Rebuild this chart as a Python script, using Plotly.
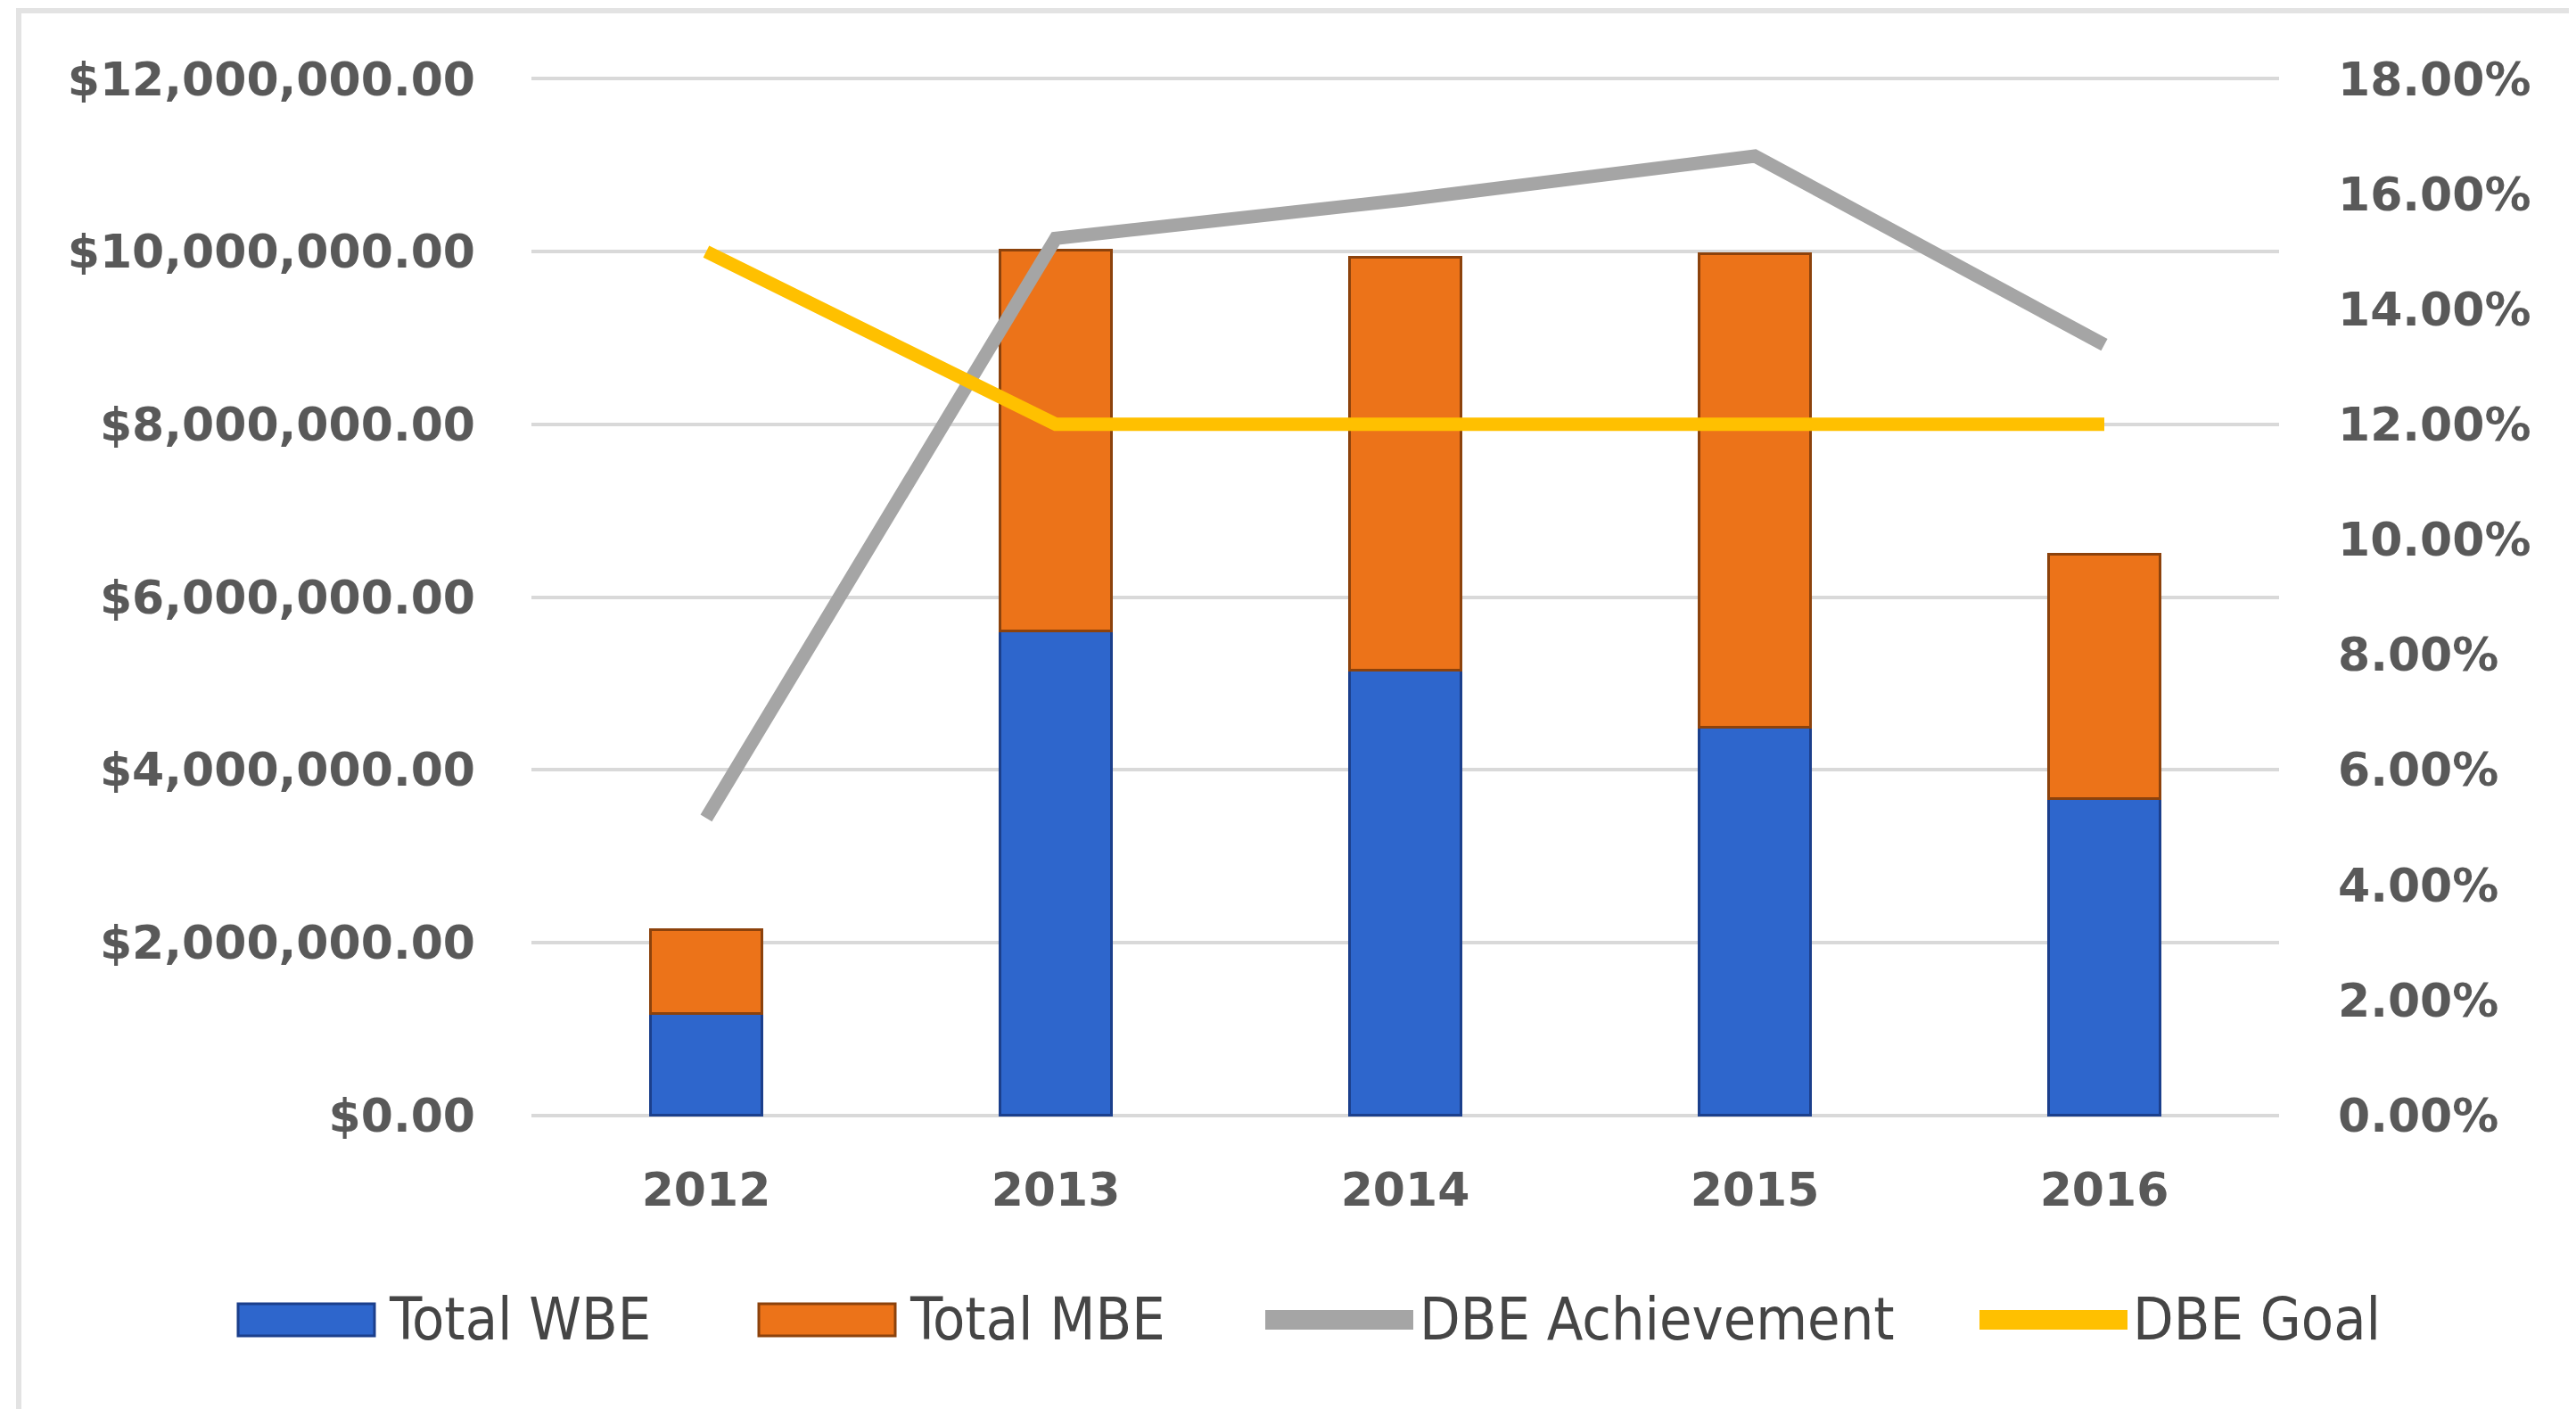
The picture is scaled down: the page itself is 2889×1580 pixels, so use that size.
import plotly.graph_objects as go

years = ["2012", "2013", "2014", "2015", "2016"]
total_wbe = [1180000, 5610000, 5150000, 4490000, 3670000]
total_mbe = [970000, 4410000, 4780000, 5490000, 2830000]
dbe_achievement = [0.0516, 0.1523, 0.1590, 0.1666, 0.1338]
dbe_goal = [0.15, 0.12, 0.12, 0.12, 0.12]

W, H = 2889, 1580
OFF = 8  # page body margin
L, R, T, B = 588, 341, 78, 335
PW, PH = W - L - R, H - T - B

def px(x):
    # screen x -> paper x
    return (x - OFF - L) / PW

def py(y):
    # screen y -> paper y
    return (H - B - (y - OFF)) / PH

BLUE = "#2e66cc"
BLUE_EDGE = "#1b3f8c"
ORANGE = "#ec7319"
ORANGE_EDGE = "#8c420c"
GRAY = "#a5a5a5"
GOLD = "#ffc000"
TXT = "#595959"
GRID = "#d9d9d9"
TICKFONT = dict(family="DejaVu Sans", size=52, color=TXT, weight="bold")

fig = go.Figure()
fig.add_trace(go.Bar(x=years, y=total_wbe, name="Total WBE", width=0.32,
                     marker=dict(color=BLUE, line=dict(color=BLUE_EDGE, width=3)),
                     showlegend=False))
fig.add_trace(go.Bar(x=years, y=total_mbe, name="Total MBE", width=0.32,
                     marker=dict(color=ORANGE, line=dict(color=ORANGE_EDGE, width=3)),
                     showlegend=False))
fig.add_trace(go.Scatter(x=years, y=dbe_achievement, name="DBE Achievement", yaxis="y2",
                         mode="lines", line=dict(color=GRAY, width=15), showlegend=False))
fig.add_trace(go.Scatter(x=years, y=dbe_goal, name="DBE Goal", yaxis="y2",
                         mode="lines", line=dict(color=GOLD, width=15), showlegend=False))

shapes = []
annotations = []
# outer border
shapes.append(dict(type="rect", xref="paper", yref="paper",
                   x0=px(21), x1=px(2886), y0=py(1600), y1=py(12),
                   line=dict(color="#e3e3e3", width=6), fillcolor="rgba(0,0,0,0)", layer="below"))

legend_items = [
    ("Total WBE", "bar", BLUE, BLUE_EDGE, 267, 420, 434),
    ("Total MBE", "bar", ORANGE, ORANGE_EDGE, 851, 1004, 1018),
    ("DBE Achievement", "line", GRAY, None, 1419, 1585, 1590),
    ("DBE Goal", "line", GOLD, None, 2220, 2386, 2390),
]
ly = 1480
for name, kind, col, edge, x0, x1, tx in legend_items:
    if kind == "bar":
        shapes.append(dict(type="rect", xref="paper", yref="paper",
                           x0=px(x0), x1=px(x1), y0=py(ly + 18), y1=py(ly - 18),
                           fillcolor=col, line=dict(color=edge, width=3)))
    else:
        shapes.append(dict(type="line", xref="paper", yref="paper",
                           x0=px(x0), x1=px(x1), y0=py(ly), y1=py(ly),
                           line=dict(color=col, width=22)))
    annotations.append(dict(text=name, xref="paper", yref="paper", x=px(tx), y=py(ly),
                            xanchor="left", yanchor="middle", showarrow=False,
                            font=dict(family="DejaVu Sans Condensed", size=66, color="#454545")))

fig.update_layout(
    width=W, height=H,
    margin=dict(l=L, r=R, t=T, b=B),
    paper_bgcolor="white", plot_bgcolor="white",
    barmode="stack",
    xaxis=dict(type="category", showgrid=False, showline=False, ticks="",
               tickfont=TICKFONT, ticklabelstandoff=46),
    yaxis=dict(range=[-25000, 12025000], tickvals=[0, 2e6, 4e6, 6e6, 8e6, 10e6, 12e6],
               tickformat="$,.2f",
               showgrid=True, gridcolor=GRID, gridwidth=4,
               zeroline=True, zerolinecolor=GRID, zerolinewidth=4,
               showline=False, tickfont=TICKFONT, ticklabelstandoff=62),
    yaxis2=dict(range=[-0.000375, 0.180375], tickvals=[0, 0.02, 0.04, 0.06, 0.08, 0.10,
                                                       0.12, 0.14, 0.16, 0.18],
                tickformat=".2%", overlaying="y", side="right",
                showgrid=False, zeroline=False, showline=False, tickfont=TICKFONT,
                ticklabelstandoff=65),
    shapes=shapes,
    annotations=annotations,
)

fig.write_html("out.html")
